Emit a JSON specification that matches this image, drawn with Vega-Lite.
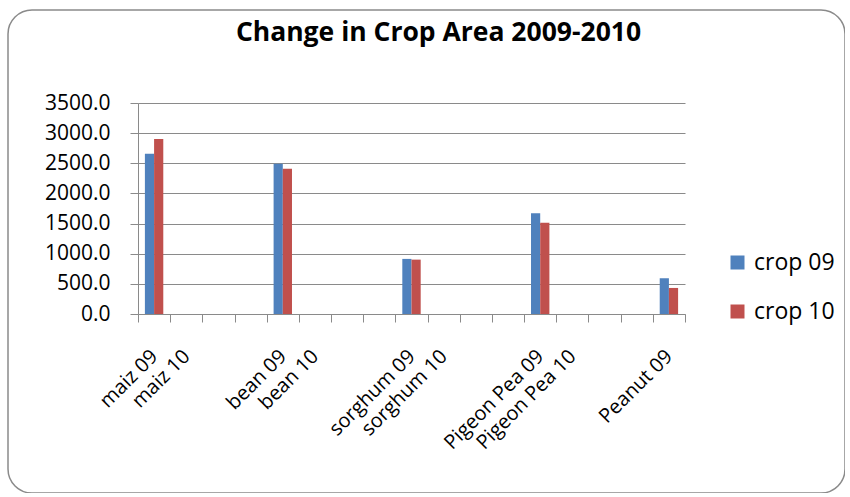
{
  "$schema": "https://vega.github.io/schema/vega-lite/v6.json",
  "width": 837,
  "height": 483,
  "autosize": {"type": "none"},
  "padding": {"left": 8, "top": 10, "right": 0, "bottom": 0},
  "background": "white",
  "config": {
    "view": {"stroke": "#8a8a8a", "strokeWidth": 1.5, "cornerRadius": 24},
    "font": "Open Sans"
  },
  "title": {
    "text": "Change in Crop Area 2009-2010",
    "fontSize": 26.5,
    "fontWeight": "bold",
    "font": "Open Sans",
    "color": "black",
    "anchor": "middle",
    "frame": "group",
    "baseline": "alphabetic",
    "offset": 0,
    "dy": 57,
    "dx": 12
  },
  "data": {
    "values": [
      {"crop": "maiz 09", "series": "crop 09", "area": 2658},
      {"crop": "maiz 09", "series": "crop 10", "area": 2902},
      {"crop": "bean 09", "series": "crop 09", "area": 2492},
      {"crop": "bean 09", "series": "crop 10", "area": 2409},
      {"crop": "sorghum 09", "series": "crop 09", "area": 914},
      {"crop": "sorghum 09", "series": "crop 10", "area": 902},
      {"crop": "Pigeon Pea 09", "series": "crop 09", "area": 1673},
      {"crop": "Pigeon Pea 09", "series": "crop 10", "area": 1512},
      {"crop": "Peanut 09", "series": "crop 09", "area": 593},
      {"crop": "Peanut 09", "series": "crop 10", "area": 432}
    ]
  },
  "mark": {"type": "bar"},
  "encoding": {
    "x": {
      "field": "crop",
      "type": "nominal",
      "sort": null,
      "scale": {
        "domain": ["maiz 09", "maiz 10", " ", "  ", "bean 09", "bean 10", "   ", "    ", "sorghum 09", "sorghum 10", "     ", "      ", "Pigeon Pea 09", "Pigeon Pea 10", "       ", "        ", "Peanut 09"],
        "range": [130, 677],
        "paddingInner": 0,
        "paddingOuter": 0
      },
      "axis": {
        "title": null,
        "offset": -179,
        "labelAngle": -45,
        "labelAlign": "right",
        "labelBaseline": "middle",
        "labelFontSize": 20,
        "labelFont": "Open Sans",
        "labelColor": "black",
        "labelPadding": 31,
        "labelOverlap": false,
        "tickSize": 8,
        "tickBand": "extent",
        "tickColor": "#8a8a8a",
        "domainColor": "#8a8a8a",
        "grid": false
      }
    },
    "xOffset": {
      "field": "series",
      "type": "nominal",
      "scale": {"paddingInner": 0, "paddingOuter": 0.75}
    },
    "y": {
      "field": "area",
      "type": "quantitative",
      "scale": {"domain": [0, 3500], "range": [304, 93], "nice": false},
      "axis": {
        "title": null,
        "offset": -130,
        "values": [0, 500, 1000, 1500, 2000, 2500, 3000, 3500],
        "format": ".1f",
        "labelFontSize": 21,
        "labelFont": "Open Sans",
        "labelColor": "black",
        "labelPadding": 20,
        "tickSize": 8,
        "tickColor": "#8a8a8a",
        "domainColor": "#8a8a8a",
        "grid": true,
        "gridColor": "#8a8a8a"
      }
    },
    "color": {
      "field": "series",
      "type": "nominal",
      "scale": {"domain": ["crop 09", "crop 10"], "range": ["#4F81BD", "#C0504D"]},
      "legend": {
        "title": null,
        "orient": "none",
        "legendX": 718,
        "legendY": 241,
        "symbolType": "square",
        "symbolSize": 196,
        "symbolStrokeWidth": 0,
        "labelFontSize": 23,
        "labelFont": "Open Sans",
        "labelColor": "black",
        "labelOffset": 5,
        "rowPadding": 25
      }
    }
  }
}
